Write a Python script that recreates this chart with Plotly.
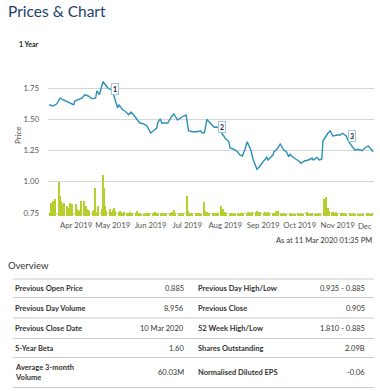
import plotly.graph_objects as go
import pandas as pd

# ---------------- data ----------------
price_dates = [
    "2019-03-10", "2019-03-13", "2019-03-16", "2019-03-19", "2019-03-21", "2019-03-25", "2019-03-27",
    "2019-03-30", "2019-03-31", "2019-04-03", "2019-04-06", "2019-04-08", "2019-04-11", "2019-04-14",
    "2019-04-17", "2019-04-18", "2019-04-20", "2019-04-23", "2019-04-26", "2019-04-27", "2019-05-01",
    "2019-05-02", "2019-05-05", "2019-05-06", "2019-05-09", "2019-05-11", "2019-05-14", "2019-05-16",
    "2019-05-18", "2019-05-21", "2019-05-23", "2019-05-26", "2019-05-29", "2019-06-01", "2019-06-03",
    "2019-06-06", "2019-06-07", "2019-06-09", "2019-06-10", "2019-06-13", "2019-06-15", "2019-06-18",
    "2019-06-20", "2019-06-23", "2019-06-25", "2019-06-28", "2019-06-30", "2019-07-02", "2019-07-05",
    "2019-07-09", "2019-07-12", "2019-07-13", "2019-07-15", "2019-07-17", "2019-07-18", "2019-07-21",
    "2019-07-23", "2019-07-26", "2019-07-30", "2019-08-01", "2019-08-04", "2019-08-05", "2019-08-08",
    "2019-08-11", "2019-08-13", "2019-08-15", "2019-08-17", "2019-08-19", "2019-08-22", "2019-08-24",
    "2019-08-27", "2019-08-29", "2019-09-01", "2019-09-04", "2019-09-05", "2019-09-07", "2019-09-09",
    "2019-09-10", "2019-09-13", "2019-09-15", "2019-09-18", "2019-09-20", "2019-09-22", "2019-09-23",
    "2019-09-25", "2019-09-28", "2019-09-30", "2019-10-02", "2019-10-05", "2019-10-08", "2019-10-11",
    "2019-10-12", "2019-10-15", "2019-10-17", "2019-10-19", "2019-10-20", "2019-10-24", "2019-10-26",
    "2019-10-28", "2019-11-01", "2019-11-03", "2019-11-05", "2019-11-08", "2019-11-10", "2019-11-13",
    "2019-11-15", "2019-11-18", "2019-11-21", "2019-11-24", "2019-11-26", "2019-11-29", "2019-11-30",
]
price_values = [
    1.616, 1.606, 1.622, 1.670, 1.656, 1.638, 1.630,
    1.616, 1.646, 1.656, 1.670, 1.696, 1.686, 1.664,
    1.670, 1.728, 1.696, 1.800, 1.766, 1.750, 1.728,
    1.686, 1.590, 1.616, 1.576, 1.566, 1.536, 1.558,
    1.536, 1.496, 1.470, 1.464, 1.446, 1.390, 1.408,
    1.430, 1.480, 1.502, 1.470, 1.472, 1.470, 1.520,
    1.542, 1.494, 1.508, 1.526, 1.534, 1.408, 1.400,
    1.400, 1.408, 1.392, 1.392, 1.500, 1.488, 1.454,
    1.436, 1.436, 1.374, 1.348, 1.320, 1.270, 1.260,
    1.240, 1.214, 1.206, 1.254, 1.320, 1.254, 1.174,
    1.100, 1.120, 1.160, 1.195, 1.174, 1.195, 1.214,
    1.240, 1.268, 1.302, 1.254, 1.240, 1.200, 1.220,
    1.200, 1.180, 1.168, 1.148, 1.166, 1.174, 1.188,
    1.174, 1.195, 1.174, 1.180, 1.328, 1.388, 1.406,
    1.366, 1.374, 1.374, 1.388, 1.366, 1.320, 1.280,
    1.254, 1.260, 1.248, 1.276, 1.286, 1.254, 1.240,
]

# daily volume (millions), business days from 11 Mar 2019, one row per week
volume_m = [
    6, 26, 30, 24, 34,
    68, 40, 30, 24, 26,
    20, 16, 26, 14, 24,
    24, 14, 10, 12, 30,
    30, 20, 14, 12, 10,
    10, 12, 56, 8, 20,
    14, 82, 56, 20, 10,
    14, 8, 12, 16, 10,
    8, 10, 8, 6, 8,
    6, 6, 8, 6, 6,
    6, 10, 6, 6, 4,
    4, 6, 6, 4, 6,
    6, 6, 8, 6, 4,
    6, 4, 6, 6, 4,
    6, 6, 8, 12, 6,
    4, 6, 4, 4, 6,
    40, 10, 6, 6, 4,
    6, 4, 6, 6, 4,
    28, 10, 8, 6, 6,
    6, 6, 4, 6, 6,
    20, 14, 6, 8, 6,
    4, 6, 4, 6, 4,
    6, 4, 6, 4, 6,
    4, 8, 8, 6, 8,
    8, 10, 8, 6, 8,
    6, 8, 6, 8, 6,
    6, 4, 6, 8, 10,
    6, 4, 6, 4, 4,
    4, 6, 4, 4, 4,
    6, 4, 6, 4, 4,
    8, 6, 4, 4, 6,
    4, 4, 6, 4, 4,
    34, 26, 38, 16, 10,
    8, 6, 6, 8, 4,
    6, 4, 6, 4, 4,
    6, 4, 4, 6, 4,
    4, 4, 4, 4, 4,
    4, 6, 4, 4, 6,
]
volume_dates = pd.bdate_range("2019-03-11", periods=len(volume_m))

event_labels = ["1", "2", "3"]
event_dates = ["2019-05-03", "2019-07-29", "2019-11-13"]
event_prices = [1.746, 1.442, 1.370]

price_ticks = [0.75, 1.00, 1.25, 1.50, 1.75]
price_ticktext = ["0.75", "1.00", "1.25", "1.50", "1.75"]
edge_month_label = "Dec"   # last month label, cut by the page edge in the original

left_labels = ["Previous Open Price", "Previous Day Volume", "Previous Close Date",
               "5-Year Beta", "Average 3-month<br>Volume"]
left_values = ["0.885", "8,956", "10 Mar 2020", "1.60", "60.03M"]
right_labels = ["Previous Day High/Low", "Previous Close", "52 Week High/Low",
                "Shares Outstanding", "Normalised Diluted EPS"]
right_values = ["0.935 - 0.885", "0.905", "1.810 - 0.885", "2.09B", "-0.06"]

# ---------------- layout geometry (window pixels) ----------------
W, H = 380, 391
L, R, T, B = 48, 374, 70, 216


def px(x):
    return (x - L) / (R - L)


def py(y):
    return (B - y) / (B - T)


FONT = "Lato, 'Open Sans', sans-serif"
LINE_COLOR = "#2a90b6"
BAR_COLOR = "#b7cf2c"
TICK_COLOR = "#555555"

fig = go.Figure()

fig.add_trace(go.Bar(
    x=volume_dates, y=volume_m, yaxis="y2",
    marker=dict(color=BAR_COLOR, line=dict(width=0)),
    width=86400000 * 1.25, hoverinfo="skip", showlegend=False,
))
fig.add_trace(go.Scatter(
    x=price_dates, y=price_values, mode="lines",
    line=dict(color=LINE_COLOR, width=1.4), showlegend=False,
))

annotations = []
for lab, d, p in zip(event_labels, event_dates, event_prices):
    annotations.append(dict(
        x=d, y=p, xref="x", yref="y", text="<b>" + lab + "</b>", showarrow=False,
        font=dict(family=FONT, size=7, color="#222222"),
        bgcolor="white", bordercolor="#9ec9e2", borderwidth=1, borderpad=1,
    ))

annotations += [
    dict(x=px(6), y=py(11), xref="paper", yref="paper", xanchor="left", yanchor="middle",
         text="Prices &amp; Chart", showarrow=False,
         font=dict(family=FONT, size=15.5, color="#223f6c")),
    dict(x=px(17), y=py(44), xref="paper", yref="paper", xanchor="left", yanchor="middle",
         text="<b>1 Year</b>", showarrow=False,
         font=dict(family=FONT, size=7, color="#222222")),
    dict(x=px(18), y=py(135), xref="paper", yref="paper", xanchor="center", yanchor="middle",
         text="Price", textangle=-90, showarrow=False,
         font=dict(family=FONT, size=8, color=TICK_COLOR)),
    dict(x=px(374), y=py(226), xref="paper", yref="paper", xanchor="right", yanchor="middle",
         text=edge_month_label, showarrow=False,
         font=dict(family=FONT, size=7.8, color=TICK_COLOR)),
    dict(x=px(374), y=py(240.5), xref="paper", yref="paper", xanchor="right", yanchor="middle",
         text="As at 11 Mar 2020 01:35 PM", showarrow=False,
         font=dict(family=FONT, size=7.5, color="#333333")),
    dict(x=px(6), y=py(265), xref="paper", yref="paper", xanchor="left", yanchor="middle",
         text="Overview", showarrow=False,
         font=dict(family=FONT, size=9.5, color="#333333")),
]

row_y = [288.5, 308.5, 328.5, 348.5, 372.5]
line_y = [279, 297.5, 318, 338.5, 357.5, 387.5]

for i, y in enumerate(row_y):
    annotations.append(dict(x=px(13), y=py(y), xref="paper", yref="paper", xanchor="left",
                            yanchor="middle", text="<b>" + left_labels[i] + "</b>", showarrow=False,
                            align="left", font=dict(family=FONT, size=7.5, color="#333333")))
    annotations.append(dict(x=px(185.5), y=py(y), xref="paper", yref="paper", xanchor="right",
                            yanchor="middle", text=left_values[i], showarrow=False,
                            font=dict(family=FONT, size=7.5, color="#333333")))
    annotations.append(dict(x=px(196), y=py(y), xref="paper", yref="paper", xanchor="left",
                            yanchor="middle", text="<b>" + right_labels[i] + "</b>", showarrow=False,
                            font=dict(family=FONT, size=7.5, color="#333333")))
    annotations.append(dict(x=px(367), y=py(y), xref="paper", yref="paper", xanchor="right",
                            yanchor="middle", text=right_values[i], showarrow=False,
                            font=dict(family=FONT, size=7.5, color="#333333")))

shapes = []
for y in line_y:
    shapes.append(dict(type="line", xref="paper", yref="paper", x0=px(13), x1=px(374),
                       y0=py(y), y1=py(y), line=dict(color="#cccccc", width=1.2)))

fig.update_layout(
    width=W, height=H,
    margin=dict(l=L, r=W - R, t=T, b=H - B, pad=0),
    paper_bgcolor="white", plot_bgcolor="white",
    font=dict(family=FONT, size=8, color=TICK_COLOR),
    showlegend=False, bargap=0,
    xaxis=dict(type="date", range=["2019-03-09", "2019-11-30 18:00"],
               dtick="M1", tick0="2019-04-01", tickformat="%b %Y",
               showgrid=False, zeroline=False, showline=False, ticks="",
               tickangle=0, automargin=False,
               tickfont=dict(family=FONT, size=7.8, color=TICK_COLOR), ticklabelstandoff=3),
    yaxis=dict(range=[0.726, 1.894], tickvals=price_ticks, ticktext=price_ticktext,
               showgrid=True, gridcolor="#d6d6d6", gridwidth=1, zeroline=False,
               showline=False, ticks="", ticklabelstandoff=8, automargin=False,
               tickfont=dict(family=FONT, size=7.8, color=TICK_COLOR)),
    yaxis2=dict(range=[0, 292], overlaying="y", visible=False, showgrid=False, zeroline=False),
    annotations=annotations,
    shapes=shapes,
)

# remove the browser's default 8px page margin so the figure sits at the window origin
fig.write_html("out.html",
               config={"displayModeBar": False},
               post_script="document.body.style.margin='0px';document.body.style.overflow='hidden';")
